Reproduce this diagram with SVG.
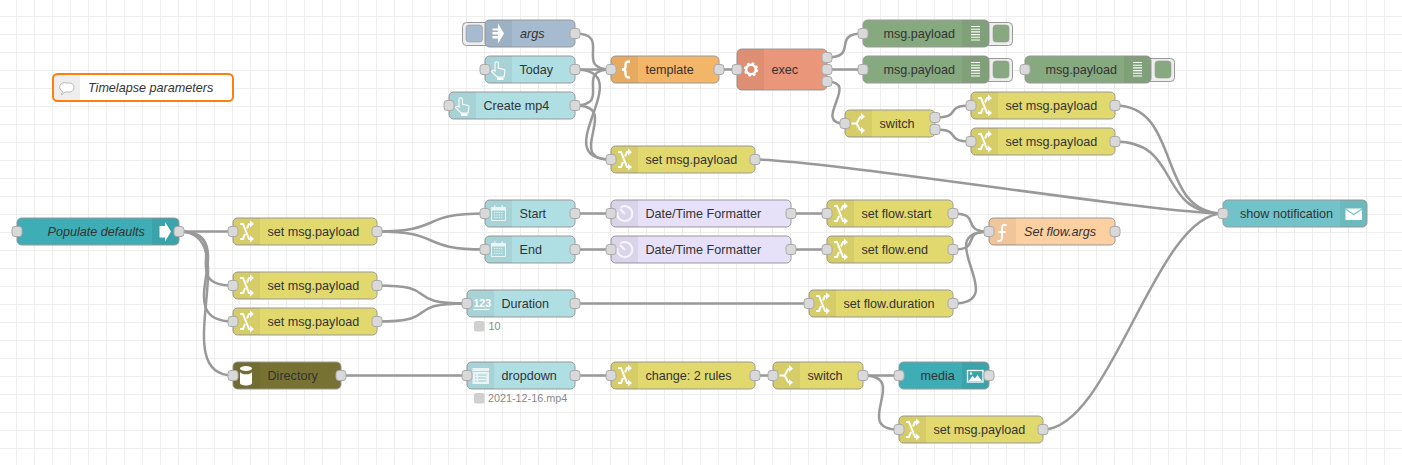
<svg xmlns="http://www.w3.org/2000/svg" xmlns:xlink="http://www.w3.org/1999/xlink" width="1402" height="465" viewBox="0 0 1402 465">
<style>
text{font-family:"Liberation Sans",Arial,sans-serif;font-size:12.6px;fill:#333}
.i{font-style:italic}
.b{stroke:#999;stroke-width:1}
.s{fill:#000;fill-opacity:.05}
.p{fill:#d9d9d9;stroke:#aaa;stroke-width:1}
.btn{fill:#eee;stroke:#999;stroke-width:1}
.st{font-size:10.8px;fill:#888}
.sd{fill:#d0d0d0}
#connectors path{fill:none;stroke:#999;stroke-width:2.5}
.w{fill:#fff;stroke:none}
.l{fill:none;stroke:#fff;stroke-width:2}
.soft{opacity:.75}
</style>
<defs>
<pattern id="grid" width="18" height="18" patternUnits="userSpaceOnUse" x="-2" y="-2">
<path d="M0 .5H18M.5 0V18" fill="none" stroke="#eee" stroke-width="1"/>
</pattern>
<g id="i-change"><path class="l" d="M7 6h3l6 15h1M7 21h3l2-5M14 10.500l2-4.500h1"/><path class="w" d="M17 2.500l4 3.500-4 3.500zM17 17.500l4 3.500-4 3.500z"/></g>
<g id="i-switch"><path class="l" d="M6.500 13.500h4c3 0 3-7 6-7M10.500 13.500c3 0 3 7 6 7"/><path class="w" d="M16 3l4 3.500-4 3.500zM16 17l4 3.500-4 3.500z"/></g>
<g id="i-hand"><path class="l" style="stroke-width:1.100" d="M10 15V7.500a1.700 1.700 0 0 1 3.400 0V12L19 13.500a1.500 1.500 0 0 1 1 1.500L19 21H12L6.500 15.500c.8-1.500 2.500-1.500 3.500-.5z"/><path class="w" d="M12 21.500h6.500V24H12z"/></g>
<g id="i-cal" class="soft"><path class="l" style="stroke-width:1" d="M6.500 7.500h14v13h-14z"/><path class="w" d="M6.500 7.500h14v3h-14z"/><path class="w" d="M9 5.500h1.500v3H9zM16.500 5.500H18v3h-1.500z"/><path d="M9 12.500h9M9 15h9M9 17.500h9" fill="none" stroke="#fff" stroke-width="1.200" stroke-dasharray="1.200 1.200"/></g>
<g id="i-clock" class="soft"><path class="l" d="M9.500 7.500a7.500 7.500 0 1 1-3 4.500M14 14L9 9"/></g>
<g id="i-debug"><path d="M9 6.500h9M9 9.200h9M9 11.900h9M9 14.600h9M9 17.300h9M9 20h9" fill="none" stroke="#fff" stroke-width="1.100"/></g>
</defs>
<rect width="1402" height="465" fill="#fff"/>
<rect width="1402" height="465" fill="url(#grid)"/>

<g id="connectors">
<path d="M575 33.500C613.200 33.500 572.800 69.500 611 69.500"/>
<path d="M575 69.500C602 69.500 584 69.500 611 69.500"/>
<path d="M575 69.500C642.500 69.500 543.500 159.500 611 159.500"/>
<path d="M575 105.500C613.200 105.500 572.800 69.500 611 69.500"/>
<path d="M575 105.500C623.700 105.500 562.300 159.500 611 159.500"/>
<path d="M719 69.500H737"/>
<path d="M827 57.500C859.400 57.500 830.600 33.500 863 33.500"/>
<path d="M827 69.500H863"/>
<path d="M827 81.500C861.300 81.500 810.700 123.500 845 123.500"/>
<path d="M935 117.500C963.500 117.500 942.500 105.500 971 105.500"/>
<path d="M935 129.500C963.500 129.500 942.500 141.500 971 141.500"/>
<path d="M1115 105.500C1182.500 105.500 1155.500 213.500 1223 213.500"/>
<path d="M1115 141.500C1182.500 141.500 1155.500 213.500 1223 213.500"/>
<path d="M755 159.500C822.500 159.500 1155.500 213.500 1223 213.500"/>
<path d="M1043 429.500C1110.500 429.500 1155.500 213.500 1223 213.500"/>
<path d="M179 231.500C219.500 231.500 192.500 231.500 233 231.500"/>
<path d="M179 231.500C236.300 231.500 175.700 285.500 233 285.500"/>
<path d="M179 231.500C246.500 231.500 165.500 321.500 233 321.500"/>
<path d="M179 231.500C246.500 231.500 165.500 375.500 233 375.500"/>
<path d="M377 231.500C444.500 231.500 417.500 213.500 485 213.500"/>
<path d="M377 231.500C444.500 231.500 417.500 249.500 485 249.500"/>
<path d="M377 285.500C444.500 285.500 399.500 303.500 467 303.500"/>
<path d="M377 321.500C444.500 321.500 399.500 303.500 467 303.500"/>
<path d="M341 375.500H467"/>
<path d="M575 213.500H611"/>
<path d="M575 249.500H611"/>
<path d="M791 213.500H827"/>
<path d="M791 249.500H827"/>
<path d="M953 213.500C983.200 213.500 958.800 231.500 989 231.500"/>
<path d="M953 249.500C983.200 249.500 958.800 231.500 989 231.500"/>
<path d="M953 303.500C1013.400 303.500 928.600 231.500 989 231.500"/>
<path d="M575 303.500H809"/>
<path d="M575 375.500H611"/>
<path d="M755 375.500H773"/>
<path d="M863 375.500H899"/>
<path d="M863 375.500C911.700 375.500 850.300 429.500 899 429.500"/>
</g>

<g id="comment">
<rect x="53" y="74" width="180" height="27" rx="4.500" fill="#fff"/>
<path d="M53 78.500a4.500 4.500 0 0 1 4.500-4.500H80v27H57.500a4.500 4.500 0 0 1-4.500-4.500z" fill="#eee"/>
<rect x="53" y="74" width="180" height="27" rx="4.500" fill="none" stroke="#ff7f0e" stroke-width="2"/>
<path d="M66 83h3.500a4.500 4.500 0 0 1 0 9H65l-3.500 3 1-3.500a4.500 4.500 0 0 1 3.500-8.500z" fill="#fff" stroke="#bbb" stroke-width="1"/>
<text x="88" y="92" class="i">Timelapse parameters</text>
</g>

<g id="args">
<rect class="btn" x="462.500" y="22.500" width="30" height="23" rx="4"/>
<rect x="466" y="25" width="16.500" height="17" rx="3" fill="#a6bbcf" stroke="#999" stroke-width=".6"/>
<rect class="b" x="485" y="20" width="90" height="27" rx="4.500" fill="#a6bbcf"/>
<path class="s" d="M489.500 20H512V47H489.500a4.500 4.500 0 0 1-4.500-4.500V24.500a4.500 4.500 0 0 1 4.500-4.500z"/>
<path class="w" d="M492.500 28.500h5.500V23.500l6 10-6 10v-5h-5.500v-2.500h5.500v-1.500h-5.500v-2.500h5.500v-1.500h-5.500z"/>
<rect class="p" x="570" y="28.500" width="10" height="10" rx="3"/>
<text x="520" y="38" class="i">args</text>
</g>

<g id="today">
<rect class="b" x="485" y="56" width="90" height="27" rx="4.500" fill="#b0dfe3"/>
<path class="s" d="M489.500 56H512V83H489.500a4.500 4.500 0 0 1-4.500-4.500V60.500a4.500 4.500 0 0 1 4.500-4.500z"/>
<use xlink:href="#i-hand" href="#i-hand" x="485" y="56"/>
<rect class="p" x="480" y="64.500" width="10" height="10" rx="3"/>
<rect class="p" x="570" y="64.500" width="10" height="10" rx="3"/>
<text x="519.500" y="74">Today</text>
</g>

<g id="create-mp4">
<rect class="b" x="449" y="92" width="126" height="27" rx="4.500" fill="#b0dfe3"/>
<path class="s" d="M453.500 92H476V119H453.500a4.500 4.500 0 0 1-4.500-4.500V96.500a4.500 4.500 0 0 1 4.500-4.500z"/>
<use xlink:href="#i-hand" href="#i-hand" x="449" y="92"/>
<rect class="p" x="444" y="100.500" width="10" height="10" rx="3"/>
<rect class="p" x="570" y="100.500" width="10" height="10" rx="3"/>
<text x="483.500" y="110">Create mp4</text>
</g>

<g id="template">
<rect class="b" x="611" y="56" width="108" height="27" rx="4.500" fill="#f3b567"/>
<path class="s" d="M615.500 56H638V83H615.500a4.500 4.500 0 0 1-4.500-4.500V60.500a4.500 4.500 0 0 1 4.500-4.500z"/>
<path class="l" style="stroke-width:2.400" d="M630 61.500c-4 0-4.500 1-4.500 4v1.500c0 2-1 2.500-3.500 2.500 2.500 0 3.500.5 3.500 2.500v1.500c0 3 .5 4 4.500 4"/>
<rect class="p" x="606" y="64.500" width="10" height="10" rx="3"/>
<rect class="p" x="714" y="64.500" width="10" height="10" rx="3"/>
<text x="645.500" y="74">template</text>
</g>

<g id="exec">
<rect class="b" x="737" y="49" width="90" height="41" rx="4.500" fill="#e9967a"/>
<path class="s" d="M741.500 49H764V90H741.500a4.500 4.500 0 0 1-4.500-4.500V53.500a4.500 4.500 0 0 1 4.500-4.500z"/>
<circle cx="751" cy="69.500" r="4.800" fill="none" stroke="#fff" stroke-width="2.600"/>
<circle cx="751" cy="69.500" r="6.300" fill="none" stroke="#fff" stroke-width="1.800" stroke-dasharray="2.500 2.450"/>
<rect class="p" x="732" y="64.500" width="10" height="10" rx="3"/>
<rect class="p" x="822" y="52.500" width="10" height="10" rx="3"/>
<rect class="p" x="822" y="64.500" width="10" height="10" rx="3"/>
<rect class="p" x="822" y="76.500" width="10" height="10" rx="3"/>
<text x="771.500" y="74">exec</text>
</g>

<g id="set-payload-top">
<rect class="b" x="611" y="146" width="144" height="27" rx="4.500" fill="#e2d96e"/>
<path class="s" d="M615.500 146H638V173H615.500a4.500 4.500 0 0 1-4.500-4.500V150.500a4.500 4.500 0 0 1 4.500-4.500z"/>
<use xlink:href="#i-change" href="#i-change" x="611" y="146"/>
<rect class="p" x="606" y="154.500" width="10" height="10" rx="3"/>
<rect class="p" x="750" y="154.500" width="10" height="10" rx="3"/>
<text x="645.500" y="164">set msg.payload</text>
</g>

<g id="debug-1">
<rect class="btn" x="985" y="22.500" width="27.500" height="23" rx="4"/>
<rect x="993" y="25" width="16" height="17" rx="3" fill="#87a980" stroke="#999" stroke-width=".6"/>
<rect class="b" x="863" y="20" width="126" height="27" rx="4.500" fill="#87a980"/>
<path class="s" d="M962 20H984.500a4.500 4.500 0 0 1 4.500 4.500V42.500a4.500 4.500 0 0 1-4.500 4.500H962z"/>
<use xlink:href="#i-debug" href="#i-debug" x="962" y="20"/>
<rect class="p" x="858" y="28.500" width="10" height="10" rx="3"/>
<text x="883.500" y="38">msg.payload</text>
</g>

<g id="debug-2">
<rect class="btn" x="985" y="58.500" width="27.500" height="23" rx="4"/>
<rect x="993" y="61" width="16" height="17" rx="3" fill="#87a980" stroke="#999" stroke-width=".6"/>
<rect class="b" x="863" y="56" width="126" height="27" rx="4.500" fill="#87a980"/>
<path class="s" d="M962 56H984.500a4.500 4.500 0 0 1 4.500 4.500V78.500a4.500 4.500 0 0 1-4.500 4.500H962z"/>
<use xlink:href="#i-debug" href="#i-debug" x="962" y="56"/>
<rect class="p" x="858" y="64.500" width="10" height="10" rx="3"/>
<text x="883.500" y="74">msg.payload</text>
</g>

<g id="debug-3">
<rect class="btn" x="1147" y="58.500" width="27.500" height="23" rx="4"/>
<rect x="1155" y="61" width="16" height="17" rx="3" fill="#87a980" stroke="#999" stroke-width=".6"/>
<rect class="b" x="1025" y="56" width="126" height="27" rx="4.500" fill="#87a980"/>
<path class="s" d="M1124 56H1146.500a4.500 4.500 0 0 1 4.500 4.500V78.500a4.500 4.500 0 0 1-4.500 4.500H1124z"/>
<use xlink:href="#i-debug" href="#i-debug" x="1124" y="56"/>
<rect class="p" x="1020" y="64.500" width="10" height="10" rx="3"/>
<text x="1045.500" y="74">msg.payload</text>
</g>

<g id="switch-top">
<rect class="b" x="845" y="110" width="90" height="27" rx="4.500" fill="#e2d96e"/>
<path class="s" d="M849.500 110H872V137H849.500a4.500 4.500 0 0 1-4.500-4.500V114.500a4.500 4.500 0 0 1 4.500-4.500z"/>
<use xlink:href="#i-switch" href="#i-switch" x="845" y="110"/>
<rect class="p" x="840" y="118.500" width="10" height="10" rx="3"/>
<rect class="p" x="930" y="112.500" width="10" height="10" rx="3"/>
<rect class="p" x="930" y="124.500" width="10" height="10" rx="3"/>
<text x="879.500" y="128">switch</text>
</g>

<g id="set-payload-a">
<rect class="b" x="971" y="92" width="144" height="27" rx="4.500" fill="#e2d96e"/>
<path class="s" d="M975.500 92H998V119H975.500a4.500 4.500 0 0 1-4.500-4.500V96.500a4.500 4.500 0 0 1 4.500-4.500z"/>
<use xlink:href="#i-change" href="#i-change" x="971" y="92"/>
<rect class="p" x="966" y="100.500" width="10" height="10" rx="3"/>
<rect class="p" x="1110" y="100.500" width="10" height="10" rx="3"/>
<text x="1005.500" y="110">set msg.payload</text>
</g>

<g id="set-payload-b">
<rect class="b" x="971" y="128" width="144" height="27" rx="4.500" fill="#e2d96e"/>
<path class="s" d="M975.500 128H998V155H975.500a4.500 4.500 0 0 1-4.500-4.500V132.500a4.500 4.500 0 0 1 4.500-4.500z"/>
<use xlink:href="#i-change" href="#i-change" x="971" y="128"/>
<rect class="p" x="966" y="136.500" width="10" height="10" rx="3"/>
<rect class="p" x="1110" y="136.500" width="10" height="10" rx="3"/>
<text x="1005.500" y="146">set msg.payload</text>
</g>

<g id="populate-defaults">
<rect class="b" x="17" y="218" width="162" height="27" rx="4.500" fill="#3fadb5"/>
<path class="s" d="M152 218H174.500a4.500 4.500 0 0 1 4.500 4.500V240.500a4.500 4.500 0 0 1-4.500 4.500H152z"/>
<path class="w" d="M159.500 226h5.500V222l6 9.500-6 10v-4h-5.500z"/>
<rect class="p" x="12" y="226.500" width="10" height="10" rx="3"/>
<rect class="p" x="174" y="226.500" width="10" height="10" rx="3"/>
<text x="47.500" y="236" class="i">Populate defaults</text>
</g>

<g id="set-payload-1">
<rect class="b" x="233" y="218" width="144" height="27" rx="4.500" fill="#e2d96e"/>
<path class="s" d="M237.500 218H260V245H237.500a4.500 4.500 0 0 1-4.500-4.500V222.500a4.500 4.500 0 0 1 4.500-4.500z"/>
<use xlink:href="#i-change" href="#i-change" x="233" y="218"/>
<rect class="p" x="228" y="226.500" width="10" height="10" rx="3"/>
<rect class="p" x="372" y="226.500" width="10" height="10" rx="3"/>
<text x="267.500" y="236">set msg.payload</text>
</g>

<g id="set-payload-2">
<rect class="b" x="233" y="272" width="144" height="27" rx="4.500" fill="#e2d96e"/>
<path class="s" d="M237.500 272H260V299H237.500a4.500 4.500 0 0 1-4.500-4.500V276.500a4.500 4.500 0 0 1 4.500-4.500z"/>
<use xlink:href="#i-change" href="#i-change" x="233" y="272"/>
<rect class="p" x="228" y="280.500" width="10" height="10" rx="3"/>
<rect class="p" x="372" y="280.500" width="10" height="10" rx="3"/>
<text x="267.500" y="290">set msg.payload</text>
</g>

<g id="set-payload-3">
<rect class="b" x="233" y="308" width="144" height="27" rx="4.500" fill="#e2d96e"/>
<path class="s" d="M237.500 308H260V335H237.500a4.500 4.500 0 0 1-4.500-4.500V312.500a4.500 4.500 0 0 1 4.500-4.500z"/>
<use xlink:href="#i-change" href="#i-change" x="233" y="308"/>
<rect class="p" x="228" y="316.500" width="10" height="10" rx="3"/>
<rect class="p" x="372" y="316.500" width="10" height="10" rx="3"/>
<text x="267.500" y="326">set msg.payload</text>
</g>

<g id="directory">
<rect class="b" x="233" y="362" width="108" height="27" rx="4.500" fill="#787232"/>
<path class="s" d="M237.500 362H260V389H237.500a4.500 4.500 0 0 1-4.500-4.500V366.500a4.500 4.500 0 0 1 4.500-4.500z"/>
<path class="w" d="M240 372v11c0 1.500 2.700 2.500 6 2.500s6-1 6-2.500v-11c-1 1.500-3 2.300-6 2.300s-5-.8-6-2.300z"/>
<ellipse cx="246" cy="368.500" rx="6" ry="2.500" fill="#fff"/>
<rect class="p" x="228" y="370.500" width="10" height="10" rx="3"/>
<rect class="p" x="336" y="370.500" width="10" height="10" rx="3"/>
<text x="267.500" y="380">Directory</text>
</g>

<g id="start">
<rect class="b" x="485" y="200" width="90" height="27" rx="4.500" fill="#b0dfe3"/>
<path class="s" d="M489.500 200H512V227H489.500a4.500 4.500 0 0 1-4.500-4.500V204.500a4.500 4.500 0 0 1 4.500-4.500z"/>
<use xlink:href="#i-cal" href="#i-cal" x="485" y="200"/>
<rect class="p" x="480" y="208.500" width="10" height="10" rx="3"/>
<rect class="p" x="570" y="208.500" width="10" height="10" rx="3"/>
<text x="519.500" y="218">Start</text>
</g>

<g id="end">
<rect class="b" x="485" y="236" width="90" height="27" rx="4.500" fill="#b0dfe3"/>
<path class="s" d="M489.500 236H512V263H489.500a4.500 4.500 0 0 1-4.500-4.500V240.500a4.500 4.500 0 0 1 4.500-4.500z"/>
<use xlink:href="#i-cal" href="#i-cal" x="485" y="236"/>
<rect class="p" x="480" y="244.500" width="10" height="10" rx="3"/>
<rect class="p" x="570" y="244.500" width="10" height="10" rx="3"/>
<text x="519.500" y="254">End</text>
</g>

<g id="formatter-1">
<rect class="b" x="611" y="200" width="180" height="27" rx="4.500" fill="#e6e0f8"/>
<path class="s" d="M615.500 200H638V227H615.500a4.500 4.500 0 0 1-4.500-4.500V204.500a4.500 4.500 0 0 1 4.500-4.500z"/>
<use xlink:href="#i-clock" href="#i-clock" x="611" y="200"/>
<rect class="p" x="606" y="208.500" width="10" height="10" rx="3"/>
<rect class="p" x="786" y="208.500" width="10" height="10" rx="3"/>
<text x="645.500" y="218">Date/Time Formatter</text>
</g>

<g id="formatter-2">
<rect class="b" x="611" y="236" width="180" height="27" rx="4.500" fill="#e6e0f8"/>
<path class="s" d="M615.500 236H638V263H615.500a4.500 4.500 0 0 1-4.500-4.500V240.500a4.500 4.500 0 0 1 4.500-4.500z"/>
<use xlink:href="#i-clock" href="#i-clock" x="611" y="236"/>
<rect class="p" x="606" y="244.500" width="10" height="10" rx="3"/>
<rect class="p" x="786" y="244.500" width="10" height="10" rx="3"/>
<text x="645.500" y="254">Date/Time Formatter</text>
</g>

<g id="set-flow-start">
<rect class="b" x="827" y="200" width="126" height="27" rx="4.500" fill="#e2d96e"/>
<path class="s" d="M831.500 200H854V227H831.500a4.500 4.500 0 0 1-4.500-4.500V204.500a4.500 4.500 0 0 1 4.500-4.500z"/>
<use xlink:href="#i-change" href="#i-change" x="827" y="200"/>
<rect class="p" x="822" y="208.500" width="10" height="10" rx="3"/>
<rect class="p" x="948" y="208.500" width="10" height="10" rx="3"/>
<text x="861.500" y="218">set flow.start</text>
</g>

<g id="set-flow-end">
<rect class="b" x="827" y="236" width="126" height="27" rx="4.500" fill="#e2d96e"/>
<path class="s" d="M831.500 236H854V263H831.500a4.500 4.500 0 0 1-4.500-4.500V240.500a4.500 4.500 0 0 1 4.500-4.500z"/>
<use xlink:href="#i-change" href="#i-change" x="827" y="236"/>
<rect class="p" x="822" y="244.500" width="10" height="10" rx="3"/>
<rect class="p" x="948" y="244.500" width="10" height="10" rx="3"/>
<text x="861.500" y="254">set flow.end</text>
</g>

<g id="set-flow-args">
<rect class="b" x="989" y="218" width="126" height="27" rx="4.500" fill="#fdd0a2"/>
<path class="s" d="M993.500 218H1016V245H993.500a4.500 4.500 0 0 1-4.500-4.500V222.500a4.500 4.500 0 0 1 4.500-4.500z"/>
<path class="l" d="M1006.500 225.300c-3-1.200-4.500-.5-4.500 3v9.500c0 2.800-1.700 3.400-4.500 3M998.500 232h7"/>
<rect class="p" x="984" y="226.500" width="10" height="10" rx="3"/>
<rect class="p" x="1110" y="226.500" width="10" height="10" rx="3"/>
<text x="1024" y="236" class="i">Set flow.args</text>
</g>

<g id="duration">
<rect class="b" x="467" y="290" width="108" height="27" rx="4.500" fill="#b0dfe3"/>
<path class="s" d="M471.500 290H494V317H471.500a4.500 4.500 0 0 1-4.500-4.500V294.500a4.500 4.500 0 0 1 4.500-4.500z"/>
<text x="473.500" y="307" style="font-size:10.500px;font-weight:bold;fill:#fff">123</text>
<path d="M473.500 309.500H489.500" stroke="#fff" stroke-width="1.200"/>
<rect class="p" x="462" y="298.500" width="10" height="10" rx="3"/>
<rect class="p" x="570" y="298.500" width="10" height="10" rx="3"/>
<text x="501.500" y="308">Duration</text>
<rect class="sd" x="474" y="321" width="10.500" height="10.500" rx="2"/>
<text x="488.500" y="330" class="st">10</text>
</g>

<g id="set-flow-duration">
<rect class="b" x="809" y="290" width="144" height="27" rx="4.500" fill="#e2d96e"/>
<path class="s" d="M813.500 290H836V317H813.500a4.500 4.500 0 0 1-4.500-4.500V294.500a4.500 4.500 0 0 1 4.500-4.500z"/>
<use xlink:href="#i-change" href="#i-change" x="809" y="290"/>
<rect class="p" x="804" y="298.500" width="10" height="10" rx="3"/>
<rect class="p" x="948" y="298.500" width="10" height="10" rx="3"/>
<text x="843.500" y="308">set flow.duration</text>
</g>

<g id="dropdown">
<rect class="b" x="467" y="362" width="108" height="27" rx="4.500" fill="#b0dfe3"/>
<path class="s" d="M471.500 362H494V389H471.500a4.500 4.500 0 0 1-4.500-4.500V366.500a4.500 4.500 0 0 1 4.500-4.500z"/>
<g class="soft"><path class="w" d="M472.500 368h16.500v16h-16.500z"/><path d="M472.500 371.500h16.500" stroke="#b0dfe3" stroke-width="1"/><path d="M475 375h1.500M478 375h8.500M475 378h1.500M478 378h8.500M475 381h1.500M478 381h8.500" stroke="#9cc8cc" stroke-width="1"/></g>
<rect class="p" x="462" y="370.500" width="10" height="10" rx="3"/>
<rect class="p" x="570" y="370.500" width="10" height="10" rx="3"/>
<text x="501.500" y="380">dropdown</text>
<rect class="sd" x="474" y="393" width="10.500" height="10.500" rx="2"/>
<text x="488" y="402" class="st">2021-12-16.mp4</text>
</g>

<g id="change-rules">
<rect class="b" x="611" y="362" width="144" height="27" rx="4.500" fill="#e2d96e"/>
<path class="s" d="M615.500 362H638V389H615.500a4.500 4.500 0 0 1-4.500-4.500V366.500a4.500 4.500 0 0 1 4.500-4.500z"/>
<use xlink:href="#i-change" href="#i-change" x="611" y="362"/>
<rect class="p" x="606" y="370.500" width="10" height="10" rx="3"/>
<rect class="p" x="750" y="370.500" width="10" height="10" rx="3"/>
<text x="645.500" y="380">change: 2 rules</text>
</g>

<g id="switch-bottom">
<rect class="b" x="773" y="362" width="90" height="27" rx="4.500" fill="#e2d96e"/>
<path class="s" d="M777.500 362H800V389H777.500a4.500 4.500 0 0 1-4.500-4.500V366.500a4.500 4.500 0 0 1 4.500-4.500z"/>
<use xlink:href="#i-switch" href="#i-switch" x="773" y="362"/>
<rect class="p" x="768" y="370.500" width="10" height="10" rx="3"/>
<rect class="p" x="858" y="370.500" width="10" height="10" rx="3"/>
<text x="807.500" y="380">switch</text>
</g>

<g id="media">
<rect class="b" x="899" y="362" width="90" height="27" rx="4.500" fill="#3fadb5"/>
<path class="s" d="M962 362H984.500a4.500 4.500 0 0 1 4.500 4.500V384.500a4.500 4.500 0 0 1-4.500 4.500H962z"/>
<rect x="967.500" y="370.500" width="15.500" height="11.500" fill="none" stroke="#fff" stroke-width="1.300"/>
<path class="w" d="M968.500 381l4-5 2.500 2.500 2.500-3.500 4.500 6z"/>
<circle cx="971" cy="373.500" r="1.200" fill="#fff"/>
<rect class="p" x="894" y="370.500" width="10" height="10" rx="3"/>
<rect class="p" x="984" y="370.500" width="10" height="10" rx="3"/>
<text x="920.500" y="380">media</text>
</g>

<g id="set-payload-bottom">
<rect class="b" x="899" y="416" width="144" height="27" rx="4.500" fill="#e2d96e"/>
<path class="s" d="M903.500 416H926V443H903.500a4.500 4.500 0 0 1-4.500-4.500V420.500a4.500 4.500 0 0 1 4.500-4.500z"/>
<use xlink:href="#i-change" href="#i-change" x="899" y="416"/>
<rect class="p" x="894" y="424.500" width="10" height="10" rx="3"/>
<rect class="p" x="1038" y="424.500" width="10" height="10" rx="3"/>
<text x="933.500" y="434">set msg.payload</text>
</g>

<g id="show-notification">
<rect class="b" x="1223" y="200" width="144" height="27" rx="4.500" fill="#72c3c9"/>
<path class="s" d="M1340 200H1362.500a4.500 4.500 0 0 1 4.500 4.500V222.500a4.500 4.500 0 0 1-4.500 4.500H1340z"/>
<path class="w" d="M1345.500 208.500h16.500v11.500h-16.500z"/>
<path d="M1345.500 209l8.250 5.500 8.250-5.500" fill="none" stroke="#72c3c9" stroke-width="1.200"/>
<rect class="p" x="1218" y="208.500" width="10" height="10" rx="3"/>
<text x="1240" y="218">show notification</text>
</g>
</svg>
